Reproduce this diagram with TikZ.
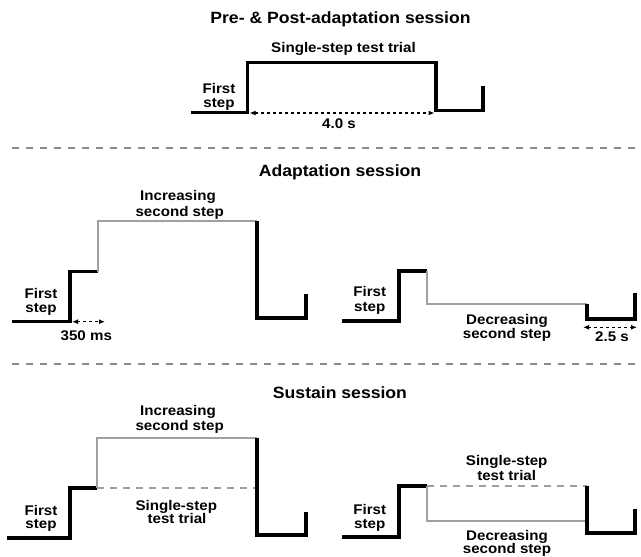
\documentclass[tikz,border=0pt]{standalone}
\usepackage{fontspec}
\setmainfont{Liberation Sans}[FakeStretch=1.08]
\usetikzlibrary{arrows.meta}
\definecolor{linegray}{HTML}{A0A0A0}
\definecolor{sepgray}{HTML}{8C8C8C}
\tikzset{
  wave/.style={line width=3.2pt, black, line join=miter},
  wavegray/.style={line width=2.6pt, linegray, line join=miter},
  testdash/.style={line width=2.6pt, linegray, dash pattern=on 7pt off 6pt},
  sepline/.style={line width=2.2pt, sepgray, dash pattern=on 7pt off 7pt},
  timearrow/.style={line width=1.2pt, dash pattern=on 3pt off 3pt, {Latex[length=6pt,width=5pt]}-{Latex[length=6pt,width=5pt]}},
  ttl/.style={font=\fontsize{16.3}{19}\selectfont\bfseries, inner sep=0pt, anchor=base},
  lbl/.style={font=\fontsize{14}{16}\selectfont\bfseries, inner sep=0pt, anchor=base},
}
\begin{document}
\begin{tikzpicture}[x=1pt,y=-1pt]
\useasboundingbox[fill=white] (0,0) rectangle (641,557);

% ---------- Pre & Post adaptation ----------
\node[ttl] (t1) at (340.5,23.5) {Pre- \& Post-adaptation session};
\node[lbl] (sst) at (343.5,52) {Single-step test trial};
\node[lbl] (f1a) at (219,93.5) {First};
\node[lbl] (f1b) at (219,107) {step};
\draw[wave] (191,112.5) -- (247.5,112.5) -- (247.5,62.5) -- (436,62.5) -- (436,110.5) -- (483,110.5) -- (483,86);
\coordinate (a1s) at (249.5,113);
\coordinate (a1e) at (434.5,113);
\draw[timearrow] (a1s) -- (a1e);
\node[lbl] (d1) at (339,128.3) {4.0 s};

\draw[sepline] (12,147.7) -- (641,147.7);

% ---------- Adaptation ----------
\node[ttl] (t2) at (340,176.7) {Adaptation session};
% left: increasing
\node[lbl] (inc1a) at (178,200.7) {Increasing};
\node[lbl] (inc1b) at (179.7,216) {second step};
\node[lbl] (f2a) at (41,298.3) {First};
\node[lbl] (f2b) at (41,312.5) {step};
\draw[wave] (12,321.5) -- (70,321.5) -- (70,271.5) -- (98,271.5);
\draw[wavegray] (98,271.5) -- (98,221) -- (257,221);
\draw[wave] (257,221) -- (257,318) -- (306,318) -- (306,294);
\coordinate (a2s) at (72,321.7);
\coordinate (a2e) at (105,321.7);
\draw[timearrow] (a2s) -- (a2e);
\node[lbl] (d2) at (86.3,340.7) {350 ms};
% right: decreasing
\node[lbl] (f3a) at (369.7,296.7) {First};
\node[lbl] (f3b) at (369.7,311) {step};
\draw[wave] (342,321) -- (399,321) -- (399,271) -- (427,271);
\draw[wavegray] (427,271) -- (427,304) -- (587,304);
\draw[wave] (587,304) -- (587,319) -- (635,319) -- (635,293);
\node[lbl] (dec1a) at (507,324) {Decreasing};
\node[lbl] (dec1b) at (507,338.3) {second step};
\coordinate (a3s) at (583,327.3);
\coordinate (a3e) at (637,327.3);
\draw[timearrow] (a3s) -- (a3e);
\node[lbl] (d3) at (612,341.7) {2.5 s};

\draw[sepline] (12,364.3) -- (641,364.3);

% ---------- Sustain ----------
\node[ttl] (t3) at (340,398.3) {Sustain session};
% left
\node[lbl] (inc2a) at (178,415) {Increasing};
\node[lbl] (inc2b) at (179.7,430) {second step};
\draw[wave] (7,538) -- (70,538) -- (70,488) -- (97,488);
\draw[wavegray] (97,488) -- (97,438) -- (257,438);
\draw[testdash] (97,488) -- (257,488);
\draw[wave] (257,438) -- (257,535) -- (306,535) -- (306,512);
\node[lbl] (ss2a) at (176.3,510) {Single-step};
\node[lbl] (ss2b) at (177,523.3) {test trial};
\node[lbl] (f4a) at (41,515) {First};
\node[lbl] (f4b) at (41,528.3) {step};
% right
\node[lbl] (ss3a) at (506.7,465) {Single-step};
\node[lbl] (ss3b) at (506.7,480) {test trial};
\draw[wave] (342,537) -- (399,537) -- (399,486) -- (427,486);
\draw[wavegray] (427,486) -- (427,521) -- (587,521);
\draw[testdash] (427,486) -- (587,486);
\draw[wave] (587,486) -- (587,533) -- (635,533) -- (635,509);
\node[lbl] (f5a) at (369.7,514) {First};
\node[lbl] (f5b) at (369.7,528.3) {step};
\node[lbl] (dec2a) at (507,540) {Decreasing};
\node[lbl] (dec2b) at (507,553.3) {second step};
\end{tikzpicture}
\end{document}
